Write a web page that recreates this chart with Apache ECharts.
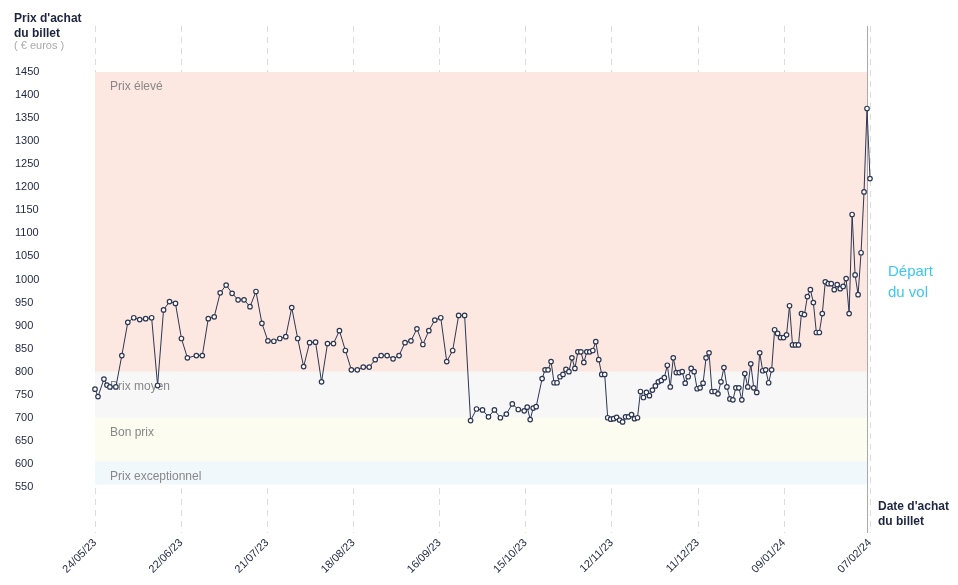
<!DOCTYPE html>
<html><head><meta charset="utf-8">
<script src="https://cdn.jsdelivr.net/npm/echarts@6/dist/echarts.min.js"></script>
<style>html,body{margin:0;background:#fff}#c{width:958px;height:585px}</style>
</head><body><div id="c"></div>
<script>
const tickLabels=['24/05/23','22/06/23','21/07/23','18/08/23','16/09/23','15/10/23','12/11/23','11/12/23','09/01/24','07/02/24'];
const days=[0,1,3,4,5,7,9,11,13,15,17,19,21,23,25,27,29,31,34,36,38,40,42,44,46,48,50,52,54,56,58,60,62,64,66,
68,70,72,74,76,78,80,82,84,86,88,90,92,94,96,98,100,102,104,106,108,110,112,114,116,118,120,122,124,126,128,130,132,134,136,138,140,142,144,145,146,147,148,
150,151,152,153,154,155,156,157,158,159,160,161,162,163,164,165,166,167,168,169,170,171,172,173,174,175,176,177,178,179,180,181,182,183,184,185,186,187,188,189,190,191,192,193,194,195,196,197,198,199,200,201,202,203,204,
205,206,207,208,209,210,211,212,213,214,215,216,217,218,219,220,221,222,223,224,225,226,227,228,229,230,231,232,233,234,235,236,237,238,239,240,241,242,243,244,245,246,247,248,249,250,251,252,253,254,255,256,257,258,259,260];
const prices=[762,746,784,771,767,767,835,907,917,913,915,917,770,934,952,948,872,830,835,835,915,919,971,988,970,956,956,941,974,905,867,866,872,876,939,
872,811,863,864,778,861,861,889,846,804,804,810,810,826,835,835,828,835,863,867,893,859,889,912,917,822,846,922,922,694,719,717,702,717,700,708,730,718,715,723,696,721,724,
785,804,804,822,776,776,789,794,805,800,830,807,843,843,820,843,843,846,865,826,794,794,700,697,698,701,695,691,702,702,707,698,700,757,744,755,748,760,769,778,781,787,814,767,830,798,798,800,775,789,807,800,763,765,775,
830,841,757,757,752,778,809,767,741,739,765,765,739,796,767,817,765,755,841,802,804,776,804,891,883,874,874,880,943,858,858,858,926,924,963,978,950,885,885,926,995,991,991,978,989,980,985,1002,926,1141,1010,967,1058,1190,1371,1219];
const bands=[['Prix élevé',800,1450,'#fde7e1'],['Prix moyen',700,800,'#f7f7f7'],['Bon prix',605,700,'#fcfcf1'],['Prix exceptionnel',555,605,'#f1f8fb']];
const gridValues=[550,600,650,700,750,800,850,900,950,1000,1050,1100,1150,1200,1250,1300,1350,1400,1450];
const ch=echarts.init(document.getElementById('c'));
const data=days.map((d,i)=>[d,prices[i]]);
ch.setOption({
 animation:false,
 textStyle:{fontFamily:'Liberation Sans, Arial'},
 grid:{left:95,right:88,top:26,bottom:52},
 xAxis:{type:'value',min:0,max:260,interval:260/9,
  axisLine:{show:false},axisTick:{show:false},
  axisLabel:{rotate:45,fontSize:11,color:'#1d2540',margin:8,formatter:v=>tickLabels[Math.round(v/(260/9))]||''},
  splitLine:{show:true,lineStyle:{type:[6,5],color:'#dcdcdc'}}},
 yAxis:{type:'value',min:450,max:1550,interval:50,
  axisLine:{show:false},axisTick:{show:false},
  axisLabel:{align:'left',margin:80,fontSize:11,color:'#1d2540',formatter:v=>(v>=550&&v<=1450)?v:''},
  splitLine:{show:false}},
 graphic:[
  {type:'text',left:14,top:11,style:{text:"Prix d'achat\ndu billet",font:'bold 12px Liberation Sans',fill:'#1d2540',lineHeight:15}},
  {type:'text',left:14,top:40,style:{text:'( € euros )',font:'11px Liberation Sans',fill:'#aaa'}},
  {type:'text',left:878,top:499,style:{text:"Date d'achat\ndu billet",font:'bold 12px Liberation Sans',fill:'#1d2540',lineHeight:15}},
  {type:'text',left:888,top:261,style:{text:'Départ\ndu vol',font:'15px Liberation Sans',fill:'#3cc8f0',lineHeight:21}}
 ],
 series:[
  {type:'line',data:[],silent:true,
   markArea:{silent:true,data:bands.map(b=>[{yAxis:b[1],xAxis:0,itemStyle:{color:b[3]},label:{show:true,position:'insideTopLeft',formatter:b[0],color:'#888',fontSize:12,offset:[10,4]}},{yAxis:b[2],xAxis:259}])},
   markLine:{silent:true,symbol:'none',label:{show:false},data:gridValues.map(v=>[{coord:[-28,v],lineStyle:{color:'#e0e0e0',type:[6,5],width:1}},{coord:[259,v]}]).concat([{xAxis:259,lineStyle:{color:'#aaa',type:'solid',width:1}}])}},
  {type:'line',data:data,symbol:'circle',symbolSize:4.5,showSymbol:true,z:5,
  lineStyle:{color:'#2d3753',width:1},itemStyle:{color:'#fff',borderColor:'#2d3753',borderWidth:1.2}}
 ]
});
</script></body></html>
